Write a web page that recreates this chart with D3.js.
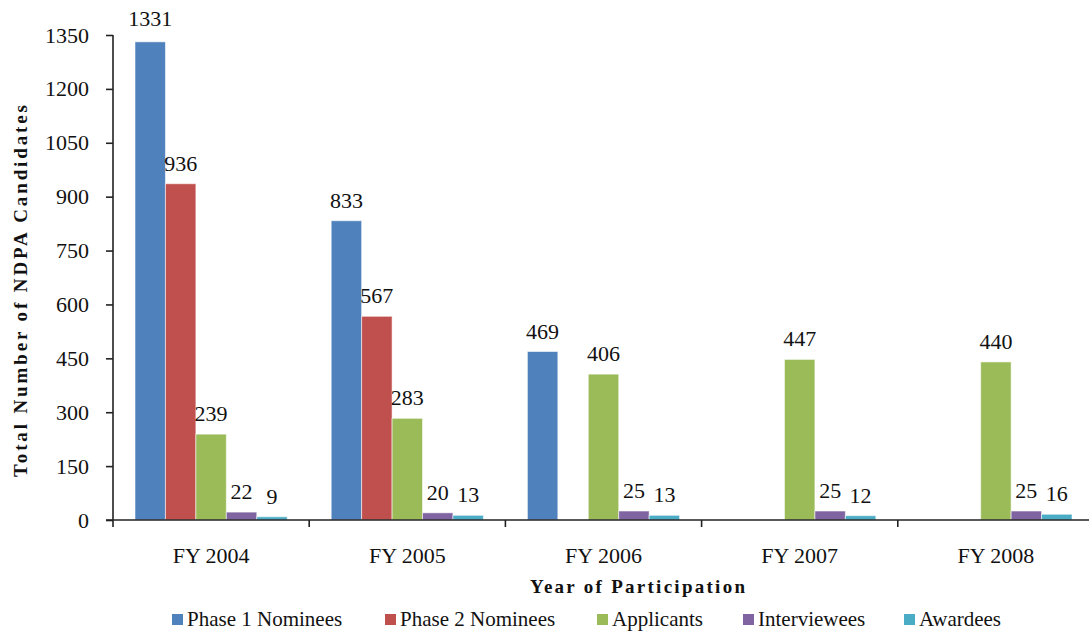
<!DOCTYPE html>
<html>
<head>
<meta charset="utf-8">
<script src="https://cdn.jsdelivr.net/npm/d3@7"></script>
<style>
  body { margin: 0; background: #fff; }
  svg text { font-family: "Liberation Serif", "DejaVu Serif", serif; }
</style>
</head>
<body>
<svg id="chart" width="1089" height="632"></svg>
<script>
// data
const years = ["FY 2004", "FY 2005", "FY 2006", "FY 2007", "FY 2008"];
const series = ["Phase 1 Nominees", "Phase 2 Nominees", "Applicants", "Interviewees", "Awardees"];
const phase1 = [1331, 833, 469, null, null];
const phase2 = [936, 567, null, null, null];
const applicants = [239, 283, 406, 447, 440];
const interviewees = [22, 20, 25, 25, 25];
const awardees = [9, 13, 13, 12, 16];
const yTicks = [0, 150, 300, 450, 600, 750, 900, 1050, 1200, 1350];
const colors = ["#4f81bd", "#c0504d", "#9bbb59", "#8064a2", "#4bacc6"];

const values = [phase1, phase2, applicants, interviewees, awardees];
const serif = "Liberation Serif";

const svg = d3.select("#chart").attr("font-family", serif);

const x = d3.scaleBand()
    .domain(years)
    .range([113, 1094]);

const xs = d3.scaleBand()
    .domain(series)
    .range([22, x.bandwidth() - 22]);

const y = d3.scaleLinear()
    .domain([0, 1350])
    .range([520, 35]);

const color = d3.scaleOrdinal().domain(series).range(colors);

// flatten into bar records, skipping missing values
var bars = [];
years.forEach((yr, i) => {
  series.forEach((s, j) => {
    if (values[j][i] != null) bars.push({year: yr, series: s, value: values[j][i]});
  });
});

// bars
svg.append("g")
  .selectAll("rect")
  .data(bars)
  .join("rect")
    .attr("x", d => x(d.year) + xs(d.series))
    .attr("y", d => y(d.value))
    .attr("width", xs.bandwidth())
    .attr("height", d => y(0) - y(d.value))
    .attr("fill", d => color(d.series))
    .attr("stroke", "rgba(255,255,255,0.55)")
    .attr("stroke-width", 1);

// value labels
svg.append("g")
  .selectAll("text")
  .data(bars)
  .join("text")
    .attr("x", d => x(d.year) + xs(d.series) + xs.bandwidth() / 2)
    .attr("y", d => y(d.value) - (d.value > 1300 ? 16 : 13))
    .attr("text-anchor", "middle")
    .attr("font-size", 22)
    .attr("fill", "#111")
    .text(d => d.value);

// y axis
const yAxis = svg.append("g")
    .attr("transform", "translate(113,0)")
    .call(d3.axisLeft(y).tickValues(yTicks).tickFormat(d3.format("d")).tickSize(7).tickPadding(17));
yAxis.attr("font-family", serif).attr("font-size", 22);
yAxis.selectAll("text").attr("fill", "#111");
yAxis.selectAll("line, path").attr("stroke", "#222").attr("stroke-width", 1.6);
yAxis.select("path").attr("d", "M0,35V520");

// x axis: ticks at category boundaries, labels centred
const xAxis = svg.append("g").attr("transform", "translate(0,520)");
xAxis.append("line")
    .attr("x1", 106).attr("x2", 1094)
    .attr("stroke", "#222").attr("stroke-width", 1.6);
xAxis.selectAll(".bound")
  .data(years)
  .join("line")
    .attr("class", "bound")
    .attr("x1", d => x(d)).attr("x2", d => x(d))
    .attr("y1", 0).attr("y2", 7)
    .attr("stroke", "#222").attr("stroke-width", 1.6);
xAxis.selectAll(".lbl")
  .data(years)
  .join("text")
    .attr("class", "lbl")
    .attr("x", d => x(d) + x.bandwidth() / 2)
    .attr("y", 43)
    .attr("text-anchor", "middle")
    .attr("font-size", 22)
    .attr("fill", "#111")
    .text(d => d);

// axis titles
svg.append("text")
    .attr("x", 530)
    .attr("y", 593)
    .attr("font-size", 19)
    .attr("font-weight", "bold")
    .attr("textLength", 215)
    .attr("lengthAdjust", "spacing")
    .attr("fill", "#111")
    .text("Year of Participation");

svg.append("text")
    .attr("transform", "translate(27,477) rotate(-90)")
    .attr("font-size", 19)
    .attr("font-weight", "bold")
    .attr("textLength", 372)
    .attr("lengthAdjust", "spacing")
    .attr("fill", "#111")
    .text("Total Number of NDPA Candidates");

// legend
const legendX = [172, 385, 597, 743, 904];
const legend = svg.append("g")
  .selectAll("g")
  .data(series)
  .join("g")
    .attr("transform", (d, i) => `translate(${legendX[i]},614)`);
legend.append("rect")
    .attr("width", 11).attr("height", 11)
    .attr("fill", d => color(d));
legend.append("text")
    .attr("x", 15)
    .attr("y", 12)
    .attr("font-size", 21)
    .attr("fill", "#111")
    .text(d => d);
</script>
</body>
</html>
